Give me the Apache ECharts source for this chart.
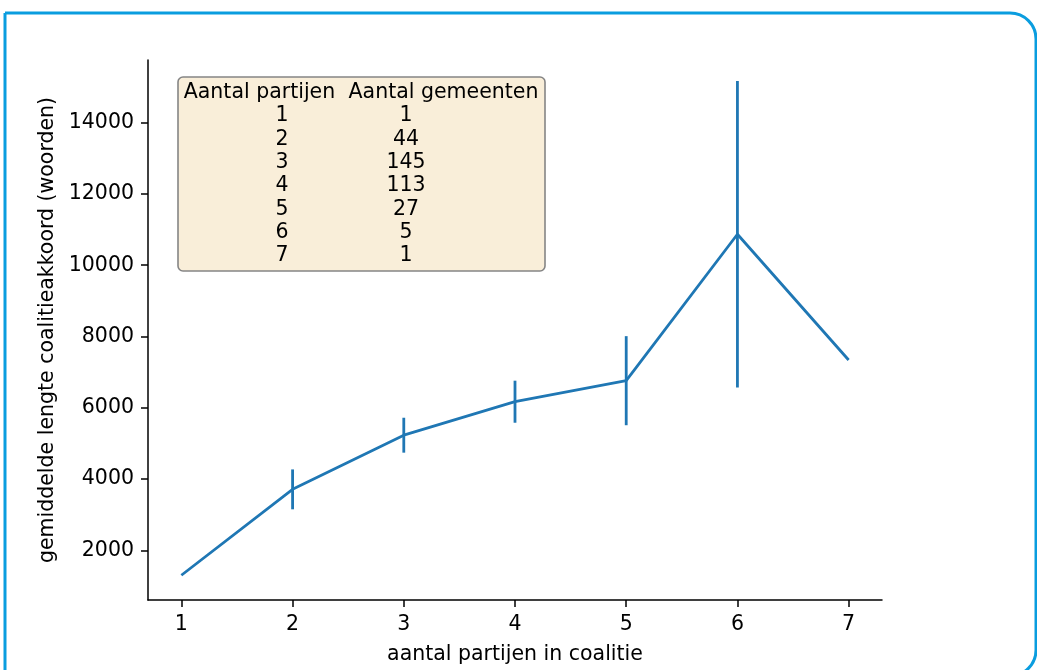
<!DOCTYPE html>
<html>
<head>
<meta charset="utf-8">
<script src="https://cdn.jsdelivr.net/npm/echarts@6/dist/echarts.min.js"></script>
<style>
html,body{margin:0;padding:0;background:#fff;}
#main{width:1037px;height:670px;}
</style>
</head>
<body>
<div id="main"></div>
<script>
// Data
var parties = [1, 2, 3, 4, 5, 6, 7];
var meanLength = [1300, 3710, 5230, 6170, 6760, 10870, 7340];
var errLength = [null, 560, 490, 590, 1250, 4300, null];
var municipalities = [1, 44, 145, 113, 27, 5, 1];
var yTicks = [2000, 4000, 6000, 8000, 10000, 12000, 14000];
var xTicks = [1, 2, 3, 4, 5, 6, 7];
var tableHeaders = ['Aantal partijen', 'Aantal gemeenten'];
var xName = 'aantal partijen in coalitie';
var yName = 'gemiddelde lengte coalitieakkoord (woorden)';

var FONT = 'DejaVu Sans';
var FS = 20.5;
var BLUE = '#1f77b4';

var lineData = parties.map(function (p, i) { return [p, meanLength[i]]; });
var errData = [];
parties.forEach(function (p, i) {
  if (errLength[i] != null) errData.push([p, meanLength[i] - errLength[i], meanLength[i] + errLength[i]]);
});

// table graphic
var fontStr = FS + 'px "' + FONT + '"';
var tbl = [];
tbl.push({
  type: 'rect', z: 10,
  shape: { x: 178, y: 77, width: 367, height: 194, r: 5 },
  style: { fill: '#f9eed9', stroke: '#858585', lineWidth: 1.6 }
});
tbl.push({ type: 'text', z: 11, x: 259.5, y: 93, style: { text: tableHeaders[0], font: fontStr, fill: '#000', align: 'center', verticalAlign: 'middle' } });
tbl.push({ type: 'text', z: 11, x: 443.5, y: 93, style: { text: tableHeaders[1], font: fontStr, fill: '#000', align: 'center', verticalAlign: 'middle' } });
parties.forEach(function (p, i) {
  var yy = 116 + i * 23.3;
  tbl.push({ type: 'text', z: 11, x: 282, y: yy, style: { text: String(p), font: fontStr, fill: '#000', align: 'center', verticalAlign: 'middle' } });
  tbl.push({ type: 'text', z: 11, x: 406, y: yy, style: { text: String(municipalities[i]), font: fontStr, fill: '#000', align: 'center', verticalAlign: 'middle' } });
});
// outer frame
tbl.push({
  type: 'rect', z: 0,
  shape: { x: 5, y: 13, width: 1031, height: 663, r: [0, 26, 26, 0] },
  style: { fill: 'none', stroke: '#0a9ddf', lineWidth: 3 }
});

var chart = echarts.init(document.getElementById('main'), null, { renderer: 'canvas' });
chart.setOption({
  animation: false,
  backgroundColor: '#fff',
  grid: { left: 148, right: 155, top: 60, bottom: 64, containLabel: false },
  xAxis: {
    type: 'value', min: 0.7, max: 7.3,
    name: xName, nameLocation: 'middle', nameGap: 44,
    nameTextStyle: { fontFamily: FONT, fontSize: FS, color: '#000' },
    axisLine: { show: true, onZero: false, lineStyle: { color: '#000', width: 1.5 } },
    axisTick: { show: true, length: 7, inside: false, customValues: xTicks, lineStyle: { color: '#000', width: 1.5 } },
    axisLabel: { customValues: xTicks, fontFamily: FONT, fontSize: FS, color: '#000', margin: 14,
      formatter: function (v) { return String(v); } },
    splitLine: { show: false }
  },
  yAxis: {
    type: 'value', min: 605, max: 15760,
    name: yName, nameLocation: 'middle', nameGap: 90, nameRotate: 90,
    nameTextStyle: { fontFamily: FONT, fontSize: FS, color: '#000' },
    axisLine: { show: true, onZero: false, lineStyle: { color: '#000', width: 1.5 } },
    axisTick: { show: true, length: 7, customValues: yTicks, lineStyle: { color: '#000', width: 1.5 } },
    axisLabel: { customValues: yTicks, fontFamily: FONT, fontSize: FS, color: '#000', margin: 14,
      formatter: function (v) { return String(v); } },
    splitLine: { show: false }
  },
  series: [
    {
      type: 'line', data: lineData, symbol: 'none',
      lineStyle: { color: BLUE, width: 2.8 }, z: 3
    },
    {
      type: 'custom', data: errData, z: 4,
      renderItem: function (params, api) {
        var top = api.coord([api.value(0), api.value(2)]);
        var bot = api.coord([api.value(0), api.value(1)]);
        return {
          type: 'line',
          shape: { x1: top[0], y1: top[1], x2: bot[0], y2: bot[1] },
          style: { stroke: BLUE, lineWidth: 2.8 }
        };
      }
    }
  ],
  graphic: tbl
});
</script>
</body>
</html>
